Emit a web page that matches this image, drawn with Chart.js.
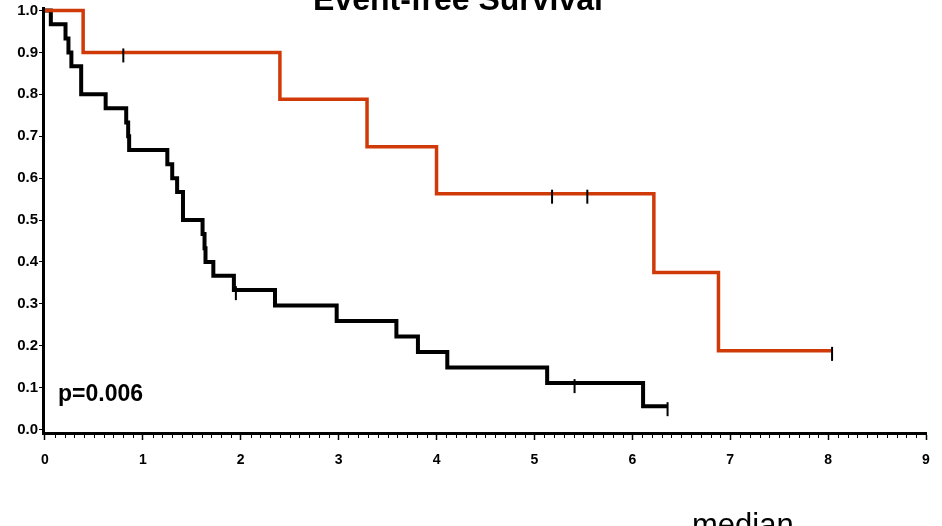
<!DOCTYPE html>
<html>
<head>
<meta charset="utf-8">
<script src="https://cdn.jsdelivr.net/npm/chart.js@4.4.1/dist/chart.umd.min.js"></script>
<style>
  html, body { margin: 0; padding: 0; background: #fff; }
  #wrap { width: 942px; height: 526px; position: relative; }
</style>
</head>
<body>
<div id="wrap"><canvas id="km"></canvas></div>
<script>
//// data ////////////////////////////////////////////
// years -> survival, value after each drop
const blackTimes = [0, 0.06, 0.21, 0.24, 0.27, 0.37, 0.62, 0.83, 0.85, 0.86, 1.25, 1.30, 1.35, 1.41, 1.61, 1.63, 1.64, 1.72, 1.93, 2.35, 2.98, 3.59, 3.81, 4.11, 5.13, 6.11, 6.36];
const blackSurv  = [1.0, 0.967, 0.933, 0.9, 0.867, 0.8, 0.767, 0.733, 0.7, 0.667, 0.633, 0.6, 0.567, 0.5, 0.467, 0.433, 0.4, 0.367, 0.333, 0.296, 0.259, 0.222, 0.185, 0.148, 0.111, 0.056, 0.056];
const redTimes = [0, 0.39, 2.40, 3.29, 4.00, 6.22, 6.88, 8.04];
const redSurv  = [1.0, 0.9, 0.788, 0.675, 0.563, 0.375, 0.188, 0.188];
// censored observations
const censorTimes = [1.95, 5.41, 6.36, 0.80, 5.18, 5.54, 8.04];
const censorSurv  = [0.333, 0.111, 0.056, 0.9, 0.563, 0.563, 0.188];

const xTicks = [0, 1, 2, 3, 4, 5, 6, 7, 8, 9];
const yTicks = [0, 0.1, 0.2, 0.3, 0.4, 0.5, 0.6, 0.7, 0.8, 0.9, 1.0];

const titleText = "Event-free Survival";
const pText = "p=0.006";
const belowText = "median";

//// helpers /////////////////////////////////////////////////////////////
function toXY(xs, ys) {
  return xs.map((x, i) => ({ x: x, y: ys[i] }));
}

// vertical censor tick, hanging a bit below the line like the original
const censorMark = document.createElement("canvas");
censorMark.width = 4;
censorMark.height = 28;
(function () {
  const c = censorMark.getContext("2d");
  c.strokeStyle = "#000";
  c.lineWidth = 2;
  c.beginPath();
  c.moveTo(2, 10);
  c.lineTo(2, 24);
  c.stroke();
})();

//// text + minor ticks plugin ///////////////////////////////////////////
const extras = {
  id: "extras",
  afterDraw(chart) {
    const ctx = chart.ctx;
    const x = chart.scales.x;
    ctx.save();
    // minor ticks every 0.1 on the time axis
    ctx.strokeStyle = "#000";
    ctx.lineWidth = 1;
    const yb = chart.chartArea.bottom + 1.5;
    for (let i = 1; i < 90; i++) {
      if (i % 10 == 0) continue;
      const px = Math.round(x.getPixelForValue(i / 10)) + 0.5;
      ctx.beginPath();
      ctx.moveTo(px, yb);
      ctx.lineTo(px, yb + 3.5);
      ctx.stroke();
    }
    ctx.fillStyle = "#000";
    ctx.textBaseline = "alphabetic";
    // title (top is cut off in the original)
    ctx.font = "bold 32px Arial, 'Liberation Sans', sans-serif";
    ctx.textAlign = "center";
    ctx.fillText(titleText, 458, 10);
    // p value
    ctx.font = "bold 23px Arial, 'Liberation Sans', sans-serif";
    ctx.textAlign = "left";
    ctx.fillText(pText, 58, 401);
    // cut-off word under the axis
    ctx.font = "31px Arial, 'Liberation Sans', sans-serif";
    ctx.fillText(belowText, 692, 535);
    ctx.restore();
  },
};

//// chart ///////////////////////////////////////////////////////////////
const xFont = { family: "Arial, 'Liberation Sans', sans-serif", size: 14, weight: "bold" };
const yFont = { family: "Arial, 'Liberation Sans', sans-serif", size: 15, weight: "bold" };

new Chart(document.getElementById("km"), {
  type: "line",
  plugins: [extras],
  data: {
    datasets: [
      {
        label: "censored",
        type: "scatter",
        data: toXY(censorTimes, censorSurv),
        pointStyle: censorMark,
        pointRadius: 7,
        showLine: false,
        order: 0,
      },
      {
        label: "red",
        data: toXY(redTimes, redSurv),
        stepped: true,
        borderColor: "#cf3a08",
        borderWidth: 3.5,
        pointRadius: 0,
        fill: false,
        order: 1,
      },
      {
        label: "black",
        data: toXY(blackTimes, blackSurv),
        stepped: true,
        borderColor: "#000000",
        borderWidth: 4,
        pointRadius: 0,
        fill: false,
        order: 2,
      },
    ],
  },
  options: {
    responsive: true,
    maintainAspectRatio: false,
    animation: false,
    layout: { padding: { top: 5, right: 16, left: 0, bottom: 0 } },
    plugins: {
      legend: { display: false },
      title: { display: false },
      tooltip: { enabled: false },
    },
    scales: {
      x: {
        type: "linear",
        min: -0.02,
        max: 9,
        afterBuildTicks: (s) => { s.ticks = xTicks.map((v) => ({ value: v })); },
        afterFit: (s) => { s.height = 93; s.paddingLeft = 0; s.paddingRight = 0; },
        ticks: { color: "#000", font: xFont, padding: 12, maxRotation: 0 },
        grid: { drawOnChartArea: false, tickLength: 7, tickWidth: 1.5, tickColor: "#000" },
        border: { color: "#000", width: 3 },
      },
      y: {
        min: -0.008,
        max: 1.006,
        afterBuildTicks: (s) => { s.ticks = yTicks.map((v) => ({ value: v })); },
        afterFit: (s) => { s.width = 43; s.paddingTop = 0; s.paddingBottom = 0; },
        ticks: { color: "#000", font: yFont, padding: 1, callback: (v) => v.toFixed(1) },
        grid: { drawOnChartArea: false, tickLength: 4, tickWidth: 1, tickColor: "#000" },
        border: { color: "#000", width: 3 },
      },
    },
  },
});
</script>
</body>
</html>
